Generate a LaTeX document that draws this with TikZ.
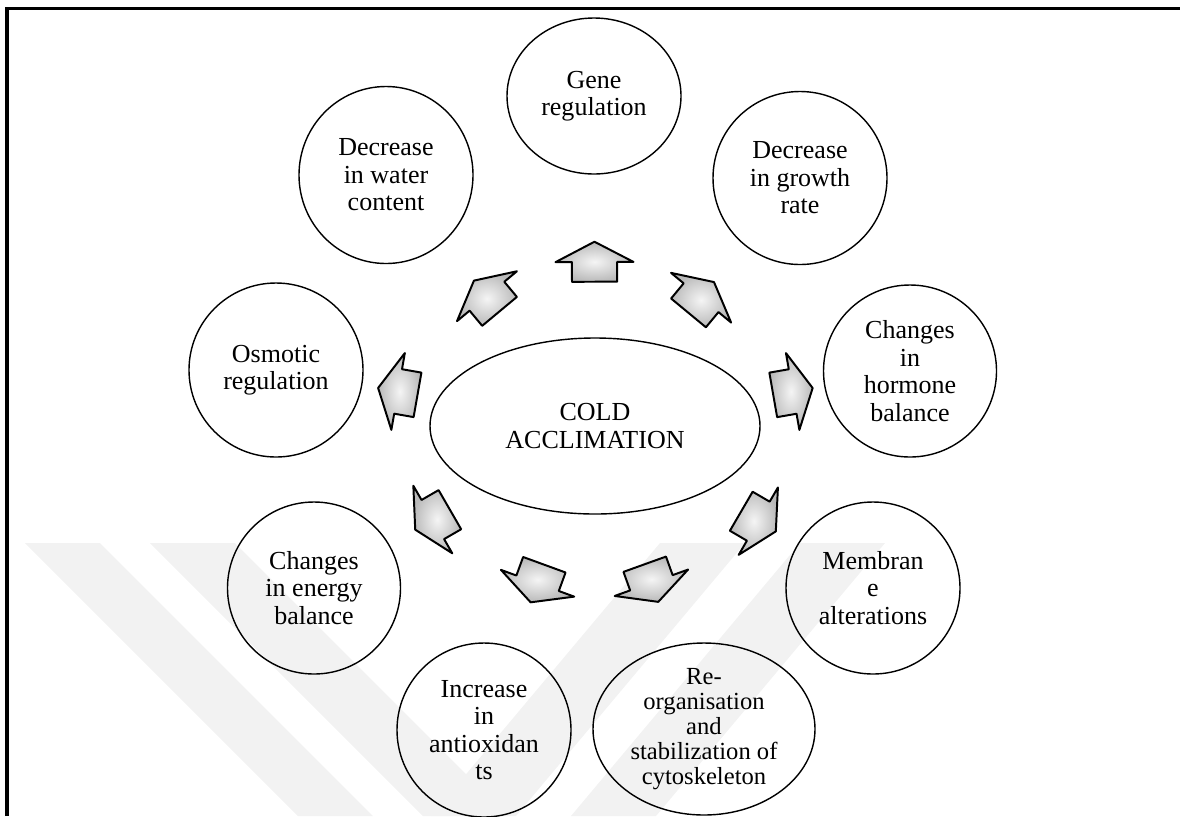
\documentclass[tikz,border=0pt]{standalone}
\usepackage{fontspec}
\setmainfont{Liberation Serif}
\usetikzlibrary{shapes.geometric, shapes.arrows}

\begin{document}
\begin{tikzpicture}[x=0.25mm, y=-0.25mm,
  bubble/.style={ellipse, draw, line width=1pt, inner sep=0pt, align=center,
    minimum width=43.5mm, minimum height=43.5mm,
    font=\fontsize{18.5}{19.6}\selectfont},
  flowarrow/.style={single arrow, draw, line width=1.4pt, line join=round,
    minimum height=10mm, inner xsep=0pt, inner ysep=5.4mm,
    single arrow head extend=4.1mm, single arrow tip angle=125,
    inner color=gray!8, outer color=gray!55, sloped, allow upside down}]
\useasboundingbox (0,0) rectangle (1180,816);
\fill[gray!10] (25,543) -- (100,543) -- (373,816) -- (298,816) -- cycle;
\fill[gray!10] (150,543) -- (235,543) -- (508,816) -- (423,816) -- cycle;
\fill[gray!10] (660,543) -- (745,543) -- (516,816) -- (431,816) -- cycle;
\fill[gray!10] (800,543) -- (885,543) -- (656,816) -- (571,816) -- cycle;
\draw[line width=2.2pt] (7,816) -- (7,8.5) -- (1180,8.5);

\node[bubble, minimum width=82.5mm, minimum height=44mm] (cold) at (595,426) {COLD\\ACCLIMATION};
\node[bubble, minimum height=39mm] (gene) at (594,96) {Gene\\regulation};
\node[bubble, minimum height=44.25mm] (water) at (386,175) {Decrease\\in water\\content};
\node[bubble, minimum height=43.25mm] (growth) at (800,178) {Decrease\\in growth\\rate};
\node[bubble] (osmotic) at (276,370) {Osmotic\\regulation};
\node[bubble, minimum width=43.25mm, minimum height=43mm] (hormone) at (910,371) {Changes\\in\\hormone\\balance};
\node[bubble, minimum width=43.25mm, minimum height=43mm] (energy) at (314,588) {Changes\\in energy\\balance};
\node[bubble, minimum height=43mm] (membrane) at (873,588) {Membran\\e\\alterations};
\node[bubble] (antiox) at (484,730) {Increase\\in\\antioxidan\\ts};
\node[bubble, minimum width=55.5mm, minimum height=43mm, font=\fontsize{17.5}{17.8}\selectfont] (reorg) at (704,729) {Re-\\organisation\\and\\stabilization of\\cytoskeleton};

\foreach \name/\f in {gene/0.48, water/0.5, growth/0.5, osmotic/0.6, hormone/0.61,
  energy/0.56, membrane/0.57, antiox/0.5, reorg/0.5}
  \path (cold.center) -- node[flowarrow, pos=\f] (arrow-\name) {} (\name.center);
\end{tikzpicture}
\end{document}
